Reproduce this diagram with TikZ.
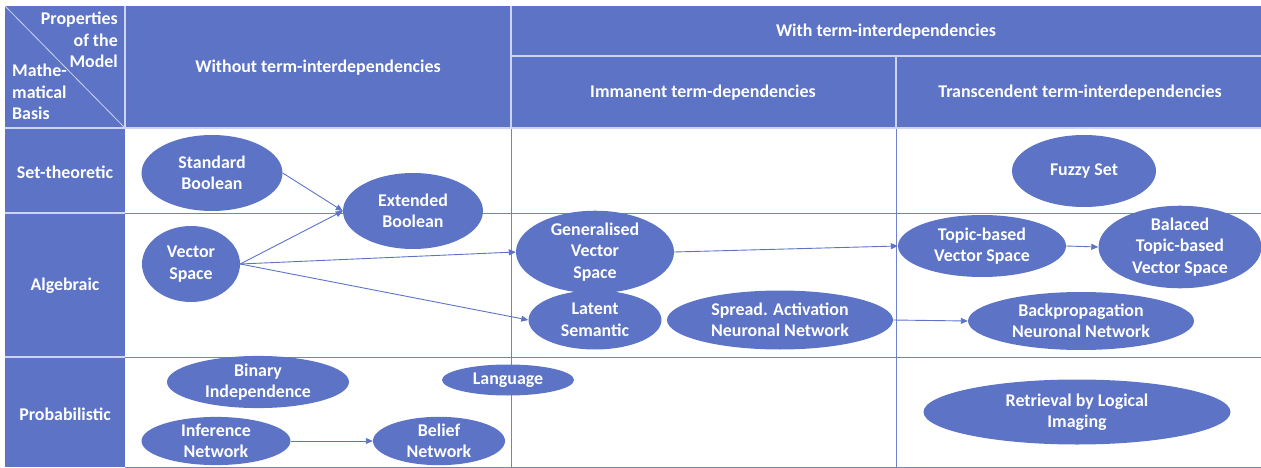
\documentclass[tikz,border=0pt]{standalone}
\usepackage{fontspec}
\setmainfont{Carlito}
\usetikzlibrary{shapes.geometric,arrows.meta}
\definecolor{mblue}{RGB}{92,115,198}
\definecolor{gridlight}{RGB}{205,212,240}
\definecolor{gridblue}{RGB}{110,130,205}

\begin{document}
\begin{tikzpicture}[x=1pt,y=-1pt,
  txt/.style={font=\bfseries\fontsize{17.9}{21.5}\selectfont},
  lbl/.style={txt,text=white,align=center,inner sep=0pt},
  model/.style={ellipse,fill=mblue,inner sep=0pt,text=white,txt,align=center},
  link/.style={draw=mblue,line width=0.9pt,-{Triangle[length=7pt,width=6pt]}},
  hline/.style={draw=gridlight,line width=1.1pt},
  bline/.style={draw=gridblue,line width=0.9pt}]

\useasboundingbox (0,0) rectangle (1261,468);

% header band and first column
\fill[mblue] (5,6) rectangle (1266,128);
\fill[mblue] (5,128) rectangle (125,467);

% grid lines inside the body
\draw[bline] (125,213) -- (1266,213);
\draw[bline] (125,357) -- (1266,357);
\draw[bline] (125,467) -- (1266,467);
\draw[bline] (511,128) -- (511,467);
\draw[bline] (896,128) -- (896,467);

% light grid lines on the coloured cells
\draw[hline] (5,128) -- (1266,128);
\draw[hline] (125,6) -- (125,128);
\draw[hline] (511,6) -- (511,128);
\draw[hline] (511,56) -- (1266,56);
\draw[hline] (896,56) -- (896,128);
\draw[hline] (5,213) -- (125,213);
\draw[hline] (5,357) -- (125,357);
\draw[hline,line width=0.8pt] (5,6) -- (125,128);

% header labels
\node[lbl,align=right,anchor=east] (props) at (118,40) {Properties\\of the\\Model};
\node[lbl,align=left,anchor=west] (basis) at (12,92) {Mathe-\\matical\\Basis};
\node[lbl] (without) at (318,68) {Without term-interdependencies};
\node[lbl] (with) at (886,32) {With term-interdependencies};
\node[lbl] (imm) at (703,93) {Immanent term-dependencies};
\node[lbl] (trans) at (1080,93) {Transcendent term-interdependencies};

% row labels
\node[lbl] (rset) at (65,172) {Set-theoretic};
\node[lbl] (ralg) at (65,286) {Algebraic};
\node[lbl] (rprob) at (65,414) {Probabilistic};

% models
\node[model,minimum width=141pt,minimum height=76pt] (std) at (212,173) {Standard\\Boolean};
\node[model,minimum width=140pt,minimum height=76pt] (ext) at (413,211) {Extended\\Boolean};
\node[model,minimum width=98pt,minimum height=76pt] (vec) at (191,264) {Vector\\Space};
\node[model,minimum width=182pt,minimum height=48pt] (bin) at (258,382) {Binary\\Independence};
\node[model,minimum width=132pt,minimum height=31pt] (lang) at (508,380) {Language};
\node[model,minimum width=149pt,minimum height=48pt] (inf) at (216,441) {Inference\\Network};
\node[model,minimum width=132pt,minimum height=48pt] (bel) at (439,441) {Belief\\Network};
\node[model,minimum width=158pt,minimum height=76pt] (gvs) at (595,252) {Generalised\\Vector\\Space};
\node[model,minimum width=133pt,minimum height=59pt] (lsi) at (595,320) {Latent\\Semantic};
\node[model,minimum width=226pt,minimum height=59pt] (spread) at (780,320) {Spread. Activation\\Neuronal Network};
\node[model,minimum width=144pt,minimum height=72pt] (fuzzy) at (1084,171) {Fuzzy Set};
\node[model,minimum width=168pt,minimum height=62pt] (topic) at (982,246) {Topic-based\\Vector Space};
\node[model,minimum width=163pt,minimum height=80pt] (btopic) at (1180,247) {Balaced\\Topic-based\\Vector Space};
\node[model,minimum width=226pt,minimum height=58pt] (backprop) at (1081,321) {Backpropagation\\Neuronal Network};
\node[model,minimum width=307pt,minimum height=65pt] (rli) at (1077,412) {Retrieval by Logical\\Imaging};

% connectors
\draw[link] (std.east) -- (ext.west);
\draw[link] (vec.east) -- (ext.west);
\draw[link] (vec.east) -- (gvs.west);
\draw[link] (vec.east) -- (lsi.west);
\draw[link] (gvs.east) -- (topic.west);
\draw[link] (topic.east) -- (btopic.west);
\draw[link] (spread.east) -- (backprop.west);
\draw[link] (inf.east) -- (bel.west);
\end{tikzpicture}
\end{document}
